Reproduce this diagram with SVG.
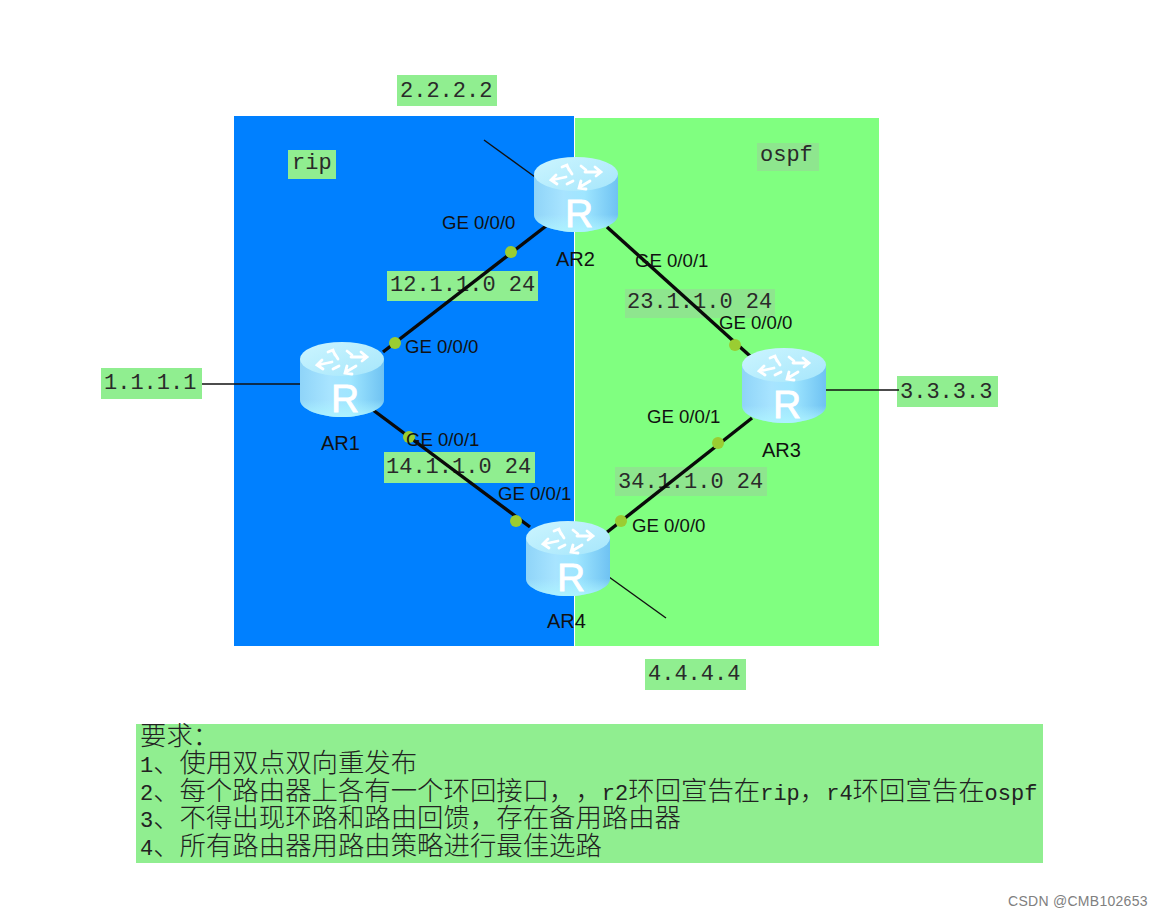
<svg xmlns="http://www.w3.org/2000/svg" width="1162" height="916" viewBox="0 0 1162 916">
<style>
.lb{fill:#90ee90}
.m{font-family:"Liberation Mono","DejaVu Sans Mono",monospace;font-size:22px;fill:#2a2a2a}
.s{font-family:"Liberation Sans",Arial,sans-serif;font-size:18.6px;fill:#111}
.a{font-size:20px}
.c{font-family:"Noto Sans CJK SC","Liberation Sans",sans-serif;font-size:26.4px;fill:#222;font-weight:300;text-spacing-trim:space-all;font-feature-settings:"palt" 0,"halt" 0}
.c tspan{font-family:"Liberation Mono",monospace;font-size:22px}
.thick{stroke:#0a0a0a;stroke-width:3.4;fill:none}
.thin{stroke:#111;stroke-width:1.4;fill:none}
.dot{fill:#9acd32}
.r{font-family:"Liberation Sans",Arial,sans-serif;font-size:39px;fill:#fff;stroke:#fff;stroke-width:.8;text-anchor:middle}
</style>
<defs>
<linearGradient id="body" x1="0" x2="1" y1="0" y2="0">
<stop offset="0" stop-color="#8fd4f8"/><stop offset="0.35" stop-color="#a8e4ff"/><stop offset="0.6" stop-color="#9fe6ff"/><stop offset="1" stop-color="#6fc2f2"/>
</linearGradient>
<linearGradient id="rim" x1="0" x2="0" y1="0" y2="1">
<stop offset="0.7" stop-color="#aef4ff" stop-opacity="0"/><stop offset="1" stop-color="#aef4ff" stop-opacity="0.9"/>
</linearGradient>
<linearGradient id="top" x1="0" x2="1" y1="0" y2="1">
<stop offset="0" stop-color="#ccf5ff"/><stop offset="1" stop-color="#a6e6fb"/>
</linearGradient>
<g id="router">
<path d="M-42 17V58C-42 67-23 75 0 75S42 67 42 58V17Z" fill="url(#body)"/>
<path d="M-42 17V58C-42 67-23 75 0 75S42 67 42 58V17Z" fill="url(#rim)"/>
<ellipse cx="0" cy="17" rx="42" ry="17" fill="url(#top)"/>
<g stroke="#fff" stroke-width="2.8" fill="none" stroke-linecap="round">
<path d="M-4 17L-9 9M-14 10L-9 8L-7 13"/>
<path d="M-10 20L-24 23M-20 18L-25 23L-19 27"/>
<path d="M9 15H24M19 10L25 15L20 19"/>
<path d="M14 24L4 30M5 24L3 31L10 32"/>
<path d="M5 9L10 13M-3 24L-9 27"/>
</g>
</g>
</defs>
<rect width="1162" height="916" fill="#fff"/>
<rect x="234" y="116" width="340" height="530" fill="#0080ff"/>
<rect x="575" y="118" width="304" height="528" fill="#80ff80"/>
<g id="labels">
<g id="lb-2222"><rect class="lb" x="397" y="75" width="100" height="31"/><text class="m" x="400" y="97">2.2.2.2</text></g>
<g id="lb-rip"><rect class="lb" x="288" y="150" width="48" height="29"/><text class="m" x="292" y="169">rip</text></g>
<g id="lb-ospf"><rect x="757" y="143" width="62" height="28" fill="#8ee68e"/><text class="m" x="760" y="161">ospf</text></g>
<g id="lb-1111"><rect class="lb" x="101" y="368" width="101" height="31"/><text class="m" x="104" y="389">1.1.1.1</text></g>
<g id="lb-3333"><rect class="lb" x="897" y="376" width="101" height="31"/><text class="m" x="900" y="398">3.3.3.3</text></g>
<g id="lb-4444"><rect class="lb" x="645" y="659" width="101" height="31"/><text class="m" x="648" y="680">4.4.4.4</text></g>
<g id="lb-12"><rect class="lb" x="387" y="271" width="151" height="30"/><text class="m" x="390" y="291">12.1.1.0 24</text></g>
<g id="lb-14"><rect class="lb" x="384" y="452" width="151" height="31"/><text class="m" x="386" y="473">14.1.1.0 24</text></g>
<g id="lb-23"><rect x="625" y="289" width="150" height="29" fill="#8ee68e"/><text class="m" x="627" y="308">23.1.1.0 24</text></g>
<g id="lb-34"><rect x="615" y="467" width="152" height="29" fill="#8ee68e"/><text class="m" x="618" y="488">34.1.1.0 24</text></g>
</g>
<g id="connectors">
<path class="thick" d="M383 352L546 226"/>
<path class="thick" d="M607 227L750 356"/>
<path class="thick" d="M373 410L530 527"/>
<path class="thick" d="M606 533L752 418"/>
<path class="thin" d="M202 384H300"/>
<path class="thin" d="M484 140L535 177"/>
<path class="thin" d="M825 390H899"/>
<path class="thin" d="M609 577L666 618"/>
<circle class="dot" cx="395" cy="343" r="6"/>
<circle class="dot" cx="511" cy="252" r="6"/>
<circle class="dot" cx="735" cy="345" r="6"/>
<circle class="dot" cx="718" cy="443" r="6"/>
<circle class="dot" cx="621" cy="521" r="6"/>
<circle class="dot" cx="516" cy="521" r="6"/>
<circle class="dot" cx="409" cy="437" r="6"/>
</g>
<g id="AR1"><use href="#router" x="342" y="342"/><text class="r" x="345" y="412">R</text><text class="s a" x="321" y="450">AR1</text></g>
<g id="AR2"><use href="#router" x="576" y="157"/><text class="r" x="579" y="227">R</text><text class="s a" x="556" y="266">AR2</text></g>
<g id="AR3"><use href="#router" x="784" y="348"/><text class="r" x="787" y="418">R</text><text class="s a" x="762" y="457">AR3</text></g>
<g id="AR4"><use href="#router" x="568" y="521"/><text class="r" x="571" y="591">R</text><text class="s a" x="547" y="628">AR4</text></g>
<g id="ports">
<text class="s" x="442" y="229">GE 0/0/0</text>
<text class="s" x="405" y="353">GE 0/0/0</text>
<text class="s" x="635" y="267">GE 0/0/1</text>
<text class="s" x="719" y="329">GE 0/0/0</text>
<text class="s" x="647" y="423">GE 0/0/1</text>
<text class="s" x="632" y="532">GE 0/0/0</text>
<text class="s" x="406" y="446">GE 0/0/1</text>
<text class="s" x="498" y="500">GE 0/0/1</text>
</g>
<g id="requirements">
<rect class="lb" x="136" y="724" width="907" height="139"/>
<text class="c" x="140" y="745">要求：</text>
<text class="c" x="140" y="772"><tspan>1</tspan>、使用双点双向重发布</text>
<text class="c" x="140" y="800"><tspan>2</tspan>、每个路由器上各有一个环回接口，，<tspan>r2</tspan>环回宣告在<tspan>rip</tspan>，<tspan>r4</tspan>环回宣告在<tspan>ospf</tspan></text>
<text class="c" x="140" y="827"><tspan>3</tspan>、不得出现环路和路由回馈，存在备用路由器</text>
<text class="c" x="140" y="855"><tspan>4</tspan>、所有路由器用路由策略进行最佳选路</text>
</g>
<text x="1008" y="906" font-family="'Liberation Sans',Arial,sans-serif" font-size="14" letter-spacing=".28" fill="#808080">CSDN @CMB102653</text>
</svg>
